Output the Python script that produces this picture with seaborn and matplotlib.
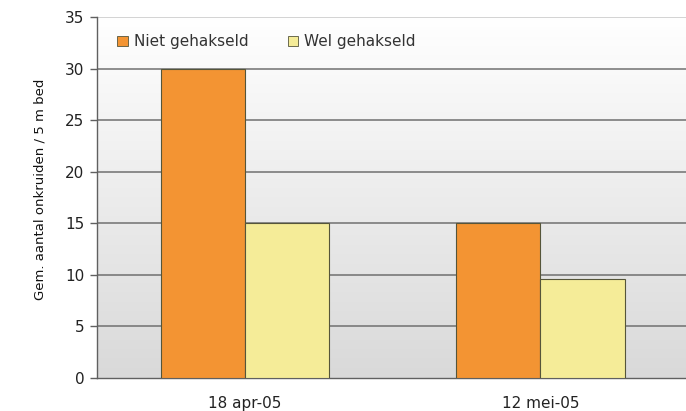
import numpy as np
import pandas as pd
import matplotlib
matplotlib.use("Agg")
import matplotlib.pyplot as plt
import seaborn as sns
from matplotlib.colors import LinearSegmentedColormap

dates = ["18 apr-05", "12 mei-05"]
series = ["Niet gehakseld", "Wel gehakseld"]
niet = [30, 15]
wel = [15, 9.6]
colors = ["#f39433", "#f5ec98"]

df = pd.DataFrame({
    "datum": dates * 2,
    "groep": [series[0]] * 2 + [series[1]] * 2,
    "waarde": niet + wel,
})

sns.set_theme(style="white")
plt.rcParams['font.family'] = ['DejaVu Sans']

fig = plt.figure(figsize=(6.86, 4.11), dpi=100)
ax = fig.add_axes([0.1414, 0.0803, 0.862, 0.878])

# gradient background (white at top, light gray at bottom)
grad = np.linspace(0, 1, 256).reshape(-1, 1)
cmap = LinearSegmentedColormap.from_list("bg", ["#ffffff", "#d9d9d9"])
ax.imshow(grad, aspect="auto", cmap=cmap, extent=[0, 1, 0, 1],
          transform=ax.transAxes, zorder=0)

sns.barplot(data=df, x="datum", y="waarde", hue="groep", hue_order=series,
            palette=colors, width=0.57, edgecolor="#55553a", linewidth=0.8,
            saturation=1, ax=ax, zorder=3)

ax.set_xlim(-0.5, 1.5)
ax.set_ylim(0, 35)
ax.set_yticks(range(0, 36, 5))
for y in range(5, 36, 5):
    ax.axhline(y, color="#707070" if y < 35 else "#c8c8c8", lw=1.1, zorder=1)

ax.set_xticks([0, 1])
ax.set_xticklabels(dates)
ax.set_xticks([0.5, 1.5], minor=True)
ax.tick_params(axis="x", which="major", length=0, pad=13, labelsize=11, labelcolor="#222222")
ax.tick_params(axis="x", which="minor", length=4, color="#606060", width=1, direction="out")
ax.tick_params(axis="y", length=5, color="#606060", width=1, direction="out", labelsize=11,
               pad=4, left=True, labelcolor="#222222")

for s in ["top", "right"]:
    ax.spines[s].set_visible(False)
ax.spines["left"].set_color("#606060")
ax.spines["bottom"].set_color("#606060")
ax.spines["left"].set_linewidth(1)
ax.spines["bottom"].set_linewidth(1)

ax.set_xlabel("")
ax.set_ylabel("Gem. aantal onkruiden / 5 m bed", fontsize=9.5, color="#111111")
ax.yaxis.set_label_coords(-0.086, 0.523)

leg = ax.legend(loc="upper left", ncol=2, frameon=False, fontsize=11,
                handlelength=0.7, handleheight=0.7, handletextpad=0.4,
                columnspacing=2.55, bbox_to_anchor=(0.011, 0.99), labelcolor="#333333")
for h in leg.legend_handles:
    h.set_edgecolor("#55553a")
    h.set_linewidth(0.6)

fig.savefig("out.png", dpi=100)
